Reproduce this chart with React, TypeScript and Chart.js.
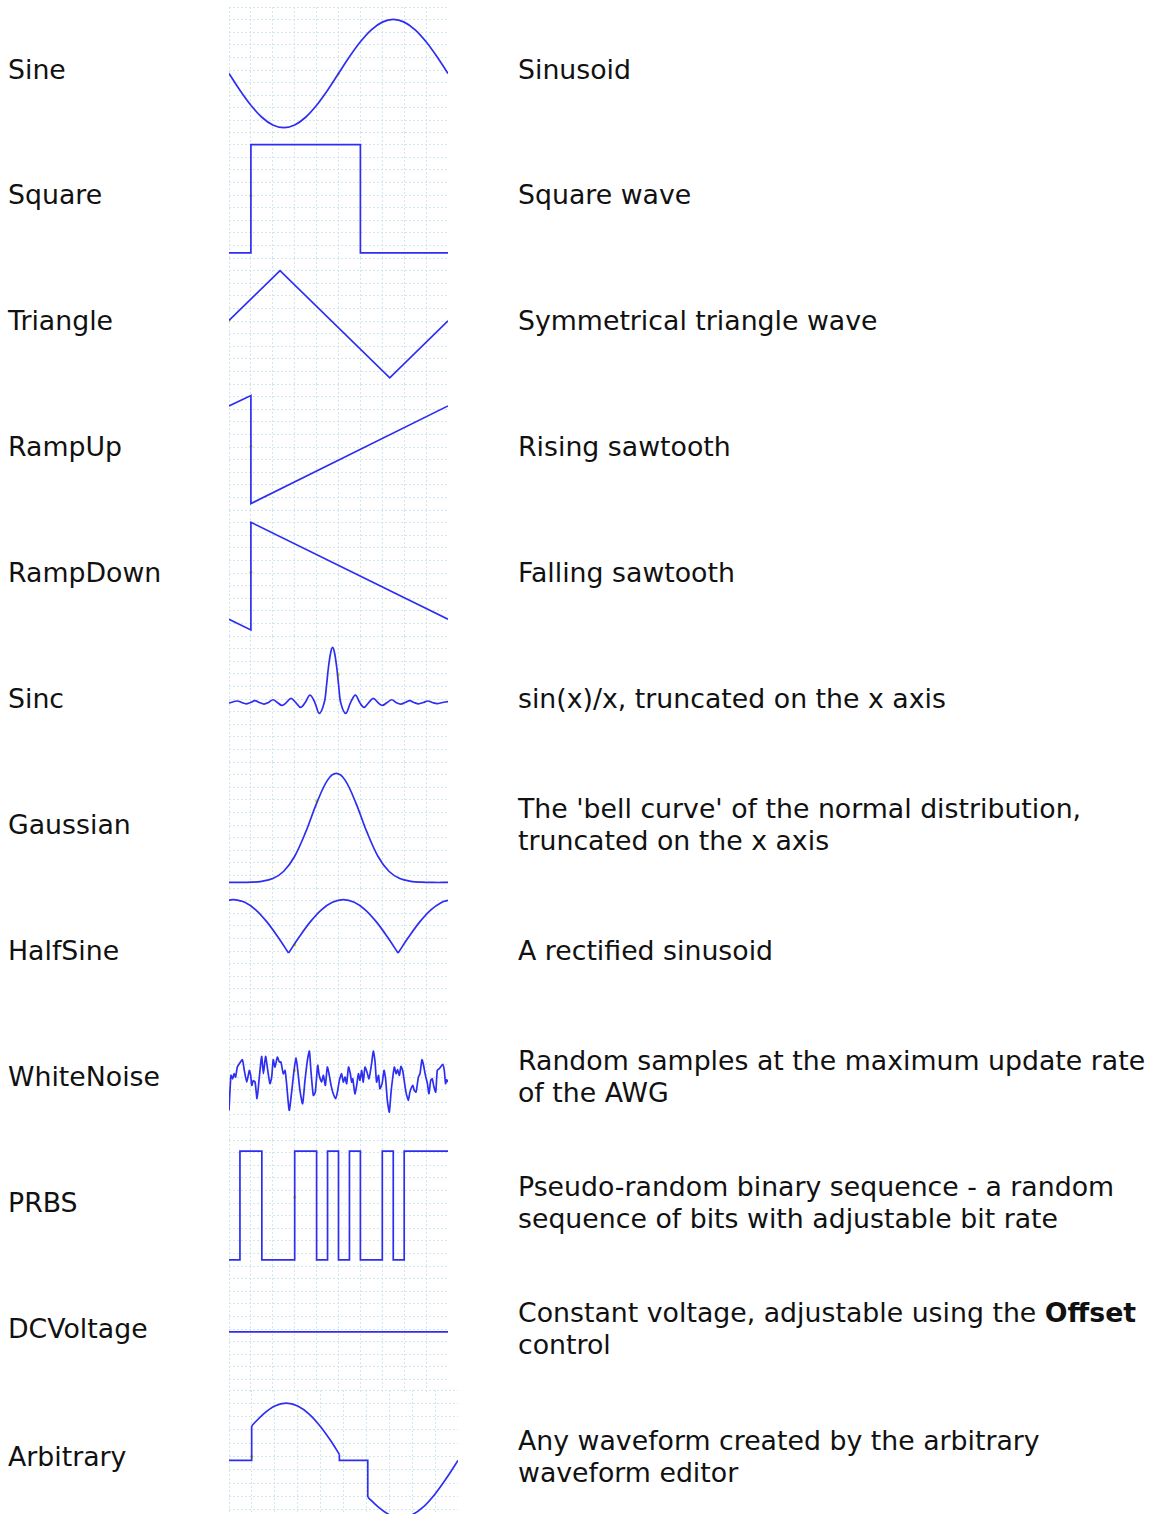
import React, { useEffect, useRef } from "react";
import { Chart, registerables } from "chart.js";

Chart.register(...registerables);

// ---------- text ----------
const waveNames = [
  "Sine", "Square", "Triangle", "RampUp", "RampDown", "Sinc",
  "Gaussian", "HalfSine", "WhiteNoise", "PRBS", "DCVoltage", "Arbitrary",
];

const descriptions: string[][] = [
  ["Sinusoid"],
  ["Square wave"],
  ["Symmetrical triangle wave"],
  ["Rising sawtooth"],
  ["Falling sawtooth"],
  ["sin(x)/x, truncated on the x axis"],
  ["The 'bell curve' of the normal distribution,", "truncated on the x axis"],
  ["A rectified sinusoid"],
  ["Random samples at the maximum update rate", "of the AWG"],
  ["Pseudo-random binary sequence - a random", "sequence of bits with adjustable bit rate"],
  ["Constant voltage, adjustable using the **Offset**", "control"],
  ["Any waveform created by the arbitrary", "waveform editor"],
];

// ---------- waveform data (x, y in grid divisions, 0..10) ----------
const sineX = [0, 0.5, 1, 1.5, 2, 2.5, 3, 3.5, 4, 4.5, 5, 5.5, 6, 6.5, 7, 7.5, 8, 8.5, 9, 9.5, 10];
const sineY = [4.72, 3.39, 2.2, 1.25, 0.64, 0.43, 0.64, 1.25, 2.2, 3.39, 4.72, 6.05, 7.24, 8.19, 8.8, 9.01, 8.8, 8.19, 7.24, 6.05, 4.72];

const squareX = [0, 1, 1, 6, 6, 10];
const squareY = [0.4, 0.4, 9.0, 9.0, 0.4, 0.4];

const triangleX = [0, 2.33, 7.34, 10];
const triangleY = [5.04, 9.0, 0.49, 5.01];

const rampUpX = [0, 1, 1, 10];
const rampUpY = [8.26, 9.08, 0.51, 8.26];

const rampDownX = [0, 1, 1, 10];
const rampDownY = [1.33, 0.48, 9.02, 1.33];

const sincX = [0, 0.38, 0.58, 0.78, 0.98, 1.19, 1.39, 1.6, 1.8, 2.01, 2.21, 2.42, 2.62, 2.83, 3.05, 3.27, 3.48, 3.7, 3.92, 4.12, 4.35, 4.45, 4.54, 4.64, 4.73, 4.82, 4.92, 5.01, 5.1, 5.33, 5.55, 5.77, 5.97, 6.16, 6.38, 6.59, 6.8, 7.0, 7.22, 7.43, 7.63, 7.84, 8.04, 8.25, 8.45, 8.66, 8.87, 9.08, 9.29, 9.5, 9.75, 10];
const sincY = [4.68, 4.84, 4.72, 4.62, 4.72, 4.87, 4.72, 4.6, 4.72, 4.94, 4.72, 4.49, 4.72, 5.05, 4.72, 4.33, 4.72, 5.31, 4.72, 3.86, 4.72, 6.03, 7.5, 8.65, 9.09, 8.65, 7.5, 6.03, 4.72, 3.86, 4.72, 5.31, 4.72, 4.33, 4.72, 5.05, 4.72, 4.49, 4.72, 4.94, 4.72, 4.6, 4.72, 4.87, 4.72, 4.62, 4.72, 4.84, 4.72, 4.64, 4.72, 4.8];

const gaussX = [0, 0.5, 1, 1.5, 2, 2.5, 3, 3.5, 4, 4.5, 4.9, 5.3, 5.8, 6.3, 6.8, 7.3, 7.8, 8.3, 8.8, 9.3, 10];
const gaussY = [0.44, 0.44, 0.46, 0.53, 0.75, 1.33, 2.52, 4.43, 6.72, 8.56, 9.09, 8.56, 6.72, 4.43, 2.52, 1.33, 0.75, 0.53, 0.46, 0.44, 0.44];

const halfSineX = [0, 0.22, 0.72, 1.22, 1.72, 2.22, 2.72, 3.22, 3.72, 4.22, 4.72, 5.22, 5.72, 6.22, 6.72, 7.22, 7.72, 8.22, 8.72, 9.22, 9.72, 10];
const halfSineY = [9.04, 9.08, 8.87, 8.27, 7.33, 6.15, 4.84, 6.15, 7.33, 8.27, 8.87, 9.08, 8.87, 8.27, 7.33, 6.15, 4.84, 6.15, 7.33, 8.27, 8.87, 9.02];

const noiseX = [0, 0.09, 0.17, 0.23, 0.3, 0.38, 0.47, 0.61, 0.7, 0.81, 0.93, 0.99, 1.04, 1.11, 1.19, 1.28, 1.37, 1.49, 1.57, 1.67, 1.77, 1.87, 1.95, 2.02, 2.1, 2.21, 2.3, 2.37, 2.48, 2.56, 2.63, 2.75, 2.86, 2.97, 3.06, 3.14, 3.24, 3.36, 3.47, 3.58, 3.67, 3.74, 3.85, 3.94, 4.05, 4.12, 4.23, 4.31, 4.4, 4.49, 4.58, 4.66, 4.76, 4.87, 4.95, 5.04, 5.14, 5.22, 5.3, 5.37, 5.46, 5.54, 5.6, 5.65, 5.75, 5.83, 5.91, 5.98, 6.06, 6.13, 6.21, 6.3, 6.39, 6.51, 6.59, 6.67, 6.74, 6.83, 6.89, 6.99, 7.08, 7.15, 7.23, 7.32, 7.4, 7.47, 7.55, 7.63, 7.7, 7.78, 7.85, 7.93, 8.01, 8.08, 8.19, 8.26, 8.39, 8.46, 8.54, 8.65, 8.72, 8.81, 8.87, 8.97, 9.06, 9.13, 9.21, 9.28, 9.36, 9.44, 9.51, 9.6, 9.76, 9.83, 9.89, 9.94, 9.99];
const noiseY = [2.35, 5.13, 4.86, 5.26, 5.0, 5.79, 6.05, 6.37, 5.52, 4.6, 5.52, 5.13, 4.33, 4.72, 4.6, 3.28, 4.72, 6.63, 5.26, 6.63, 5.52, 4.47, 5.0, 6.37, 5.79, 6.58, 6.19, 6.19, 5.26, 5.52, 4.47, 2.35, 3.8, 5.52, 6.53, 5.52, 3.94, 2.88, 4.73, 6.32, 7.06, 5.52, 3.54, 3.8, 5.92, 5.13, 4.6, 5.13, 4.33, 5.79, 5.13, 4.33, 3.67, 3.28, 3.8, 4.73, 5.26, 4.6, 5.0, 4.47, 5.79, 5.26, 4.6, 4.86, 3.67, 4.33, 5.26, 4.73, 5.52, 4.6, 5.79, 5.39, 4.86, 6.05, 7.06, 6.19, 4.6, 5.13, 4.07, 4.47, 5.52, 4.86, 3.14, 2.22, 3.8, 4.86, 5.79, 5.26, 5.58, 5.13, 5.84, 5.52, 4.6, 3.8, 3.14, 3.8, 4.33, 3.94, 3.8, 5.0, 5.26, 6.37, 6.05, 5.13, 4.47, 3.67, 4.73, 4.86, 4.2, 3.8, 5.52, 5.66, 6.0, 5.52, 4.47, 4.78, 4.6];

const prbsBits = [0, 1, 1, 0, 0, 0, 1, 1, 0, 1, 0, 1, 0, 0, 1, 0, 1, 1, 1, 1];
const prbsBitWidth = 0.5;
const prbsLevels = [0.49, 9.11];

const dcX = [0, 10];
const dcY = [4.77, 4.77];

const arbX = [0, 0.99, 0.99, 1.5, 2.0, 2.5, 3.0, 3.5, 4.0, 4.5, 4.82, 4.82, 6.06, 6.06, 6.5, 7.0, 7.5, 8.0, 8.5, 9.0, 9.5, 10];
const arbY = [4.71, 4.71, 7.3, 8.19, 8.8, 9.01, 8.8, 8.19, 7.24, 6.04, 5.15, 4.71, 4.71, 1.95, 1.23, 0.62, 0.41, 0.62, 1.23, 2.18, 3.38, 4.71];

// trigger markers (small yellow dots)
const markerX = [5.0, 1.0, 0.0, 1.0, 1.0, 4.99, 4.0, 3.0, 3.0, 3.0, null, 0.99];
const markerY = [4.72, 4.94, 5.04, 5.06, 5.06, 6.95, 6.91, 5.48, 5.52, 5.46, null, 5.0];

type Seg = { from: number; to: number; tension: number; stepped?: boolean | string };
type Wave = { xs: number[]; ys: number[]; segs: Seg[] };

const prbsX: number[] = prbsBits.map((_, i) => i * prbsBitWidth).concat([prbsBits.length * prbsBitWidth]);
const prbsY: number[] = prbsBits.map((b) => prbsLevels[b]).concat([prbsLevels[prbsBits[prbsBits.length - 1]]]);

const waves: Wave[] = [
  { xs: sineX, ys: sineY, segs: [{ from: 0, to: sineX.length - 1, tension: 0.35 }] },
  { xs: squareX, ys: squareY, segs: [{ from: 0, to: squareX.length - 1, tension: 0 }] },
  { xs: triangleX, ys: triangleY, segs: [{ from: 0, to: triangleX.length - 1, tension: 0 }] },
  { xs: rampUpX, ys: rampUpY, segs: [{ from: 0, to: rampUpX.length - 1, tension: 0 }] },
  { xs: rampDownX, ys: rampDownY, segs: [{ from: 0, to: rampDownX.length - 1, tension: 0 }] },
  { xs: sincX, ys: sincY, segs: [{ from: 0, to: sincX.length - 1, tension: 0.35 }] },
  { xs: gaussX, ys: gaussY, segs: [{ from: 0, to: gaussX.length - 1, tension: 0.35 }] },
  {
    xs: halfSineX, ys: halfSineY, segs: [
      { from: 0, to: 6, tension: 0.35 },
      { from: 6, to: 16, tension: 0.35 },
      { from: 16, to: 21, tension: 0.35 },
    ],
  },
  { xs: noiseX, ys: noiseY, segs: [{ from: 0, to: noiseX.length - 1, tension: 0.2 }] },
  { xs: prbsX, ys: prbsY, segs: [{ from: 0, to: prbsX.length - 1, tension: 0, stepped: "before" }] },
  { xs: dcX, ys: dcY, segs: [{ from: 0, to: 1, tension: 0 }] },
  {
    xs: arbX, ys: arbY, segs: [
      { from: 0, to: 2, tension: 0 },
      { from: 2, to: 10, tension: 0.35 },
      { from: 10, to: 13, tension: 0 },
      { from: 13, to: 21, tension: 0.35 },
    ],
  },
];

// ---------- layout ----------
const ROW_TOP0 = 6.5;
const ROW_H = 125.9;
const THUMB_LEFT = 229;
const THUMB_W = 219;
const THUMB_H = 126;
const LAST_TOP = 1390;
const LAST_W = 229;
const LAST_H = 133;

const LINE_COLOR = "#2e2ef2";
const GRID_COLOR = "#cfe7f1";
const MARK_COLOR = "#e2e200";
const FONT = '"DejaVu Sans", Verdana, sans-serif';

function Thumb({ idx, width, height }: { idx: number; width: number; height: number }) {
  const ref = useRef<HTMLCanvasElement | null>(null);
  useEffect(() => {
    const w = waves[idx];
    const datasets: any[] = w.segs.map((s) => {
      const pts = [];
      for (let i = s.from; i <= s.to; i++) pts.push({ x: w.xs[i], y: w.ys[i] });
      return {
        data: pts,
        borderColor: LINE_COLOR,
        borderWidth: 1.7,
        pointRadius: 0,
        pointHoverRadius: 0,
        fill: false,
        tension: s.tension,
        stepped: s.stepped || false,
      };
    });
    if (markerX[idx] !== null) {
      datasets.push({
        data: [{ x: markerX[idx], y: markerY[idx] }],
        showLine: false,
        pointRadius: 1.6,
        pointHoverRadius: 0,
        pointBorderWidth: 0,
        pointBackgroundColor: MARK_COLOR,
      });
    }
    const axis = {
      type: "linear" as const,
      min: 0,
      max: 10,
      ticks: { display: false, stepSize: 1 },
      grid: { color: GRID_COLOR, drawTicks: false, lineWidth: 1 },
      border: { display: false, dash: [2, 2] },
    };
    const chart = new Chart(ref.current as HTMLCanvasElement, {
      type: "line",
      data: { datasets },
      options: {
        animation: false,
        responsive: false,
        maintainAspectRatio: false,
        events: [],
        layout: { padding: 0, autoPadding: false },
        plugins: { legend: { display: false }, tooltip: { enabled: false } },
        scales: { x: axis, y: axis },
      } as any,
    });
    return () => chart.destroy();
  }, [idx]);
  return <canvas ref={ref} width={width} height={height} style={{ width, height, display: "block" }} />;
}

function renderLine(line: string) {
  const parts = line.split("**");
  return parts.map((p, i) => (i % 2 === 1 ? <b key={i}>{p}</b> : <span key={i}>{p}</span>));
}

export default function App() {
  return (
    <div
      style={{
        position: "absolute",
        left: 0,
        top: 0,
        width: 1159,
        height: 1514,
        overflow: "hidden",
        background: "#fff",
        fontFamily: FONT,
        fontSize: "26.75px",
        lineHeight: "32px",
        color: "#111",
      }}
    >
      {waveNames.map((name, k) => {
        const isLast = k === waveNames.length - 1;
        const top = isLast ? LAST_TOP : Math.round(ROW_TOP0 + ROW_H * k);
        const h = isLast ? LAST_H : THUMB_H;
        const w = isLast ? LAST_W : THUMB_W;
        const center = isLast ? LAST_TOP + 66.5 : ROW_TOP0 + ROW_H * k + 63;
        return (
          <React.Fragment key={name}>
            <div style={{ position: "absolute", left: THUMB_LEFT, top, width: w, height: h }}>
              <Thumb idx={k} width={w} height={h} />
            </div>
            <div
              style={{
                position: "absolute",
                left: 8,
                top: center - 50,
                height: 100,
                display: "flex",
                alignItems: "center",
                whiteSpace: "nowrap",
              }}
            >
              {name}
            </div>
            <div
              style={{
                position: "absolute",
                left: 518,
                top: center - 50,
                height: 100,
                display: "flex",
                flexDirection: "column",
                justifyContent: "center",
                whiteSpace: "nowrap",
              }}
            >
              {descriptions[k].map((ln, j) => (
                <div key={j}>{renderLine(ln)}</div>
              ))}
            </div>
          </React.Fragment>
        );
      })}
    </div>
  );
}
